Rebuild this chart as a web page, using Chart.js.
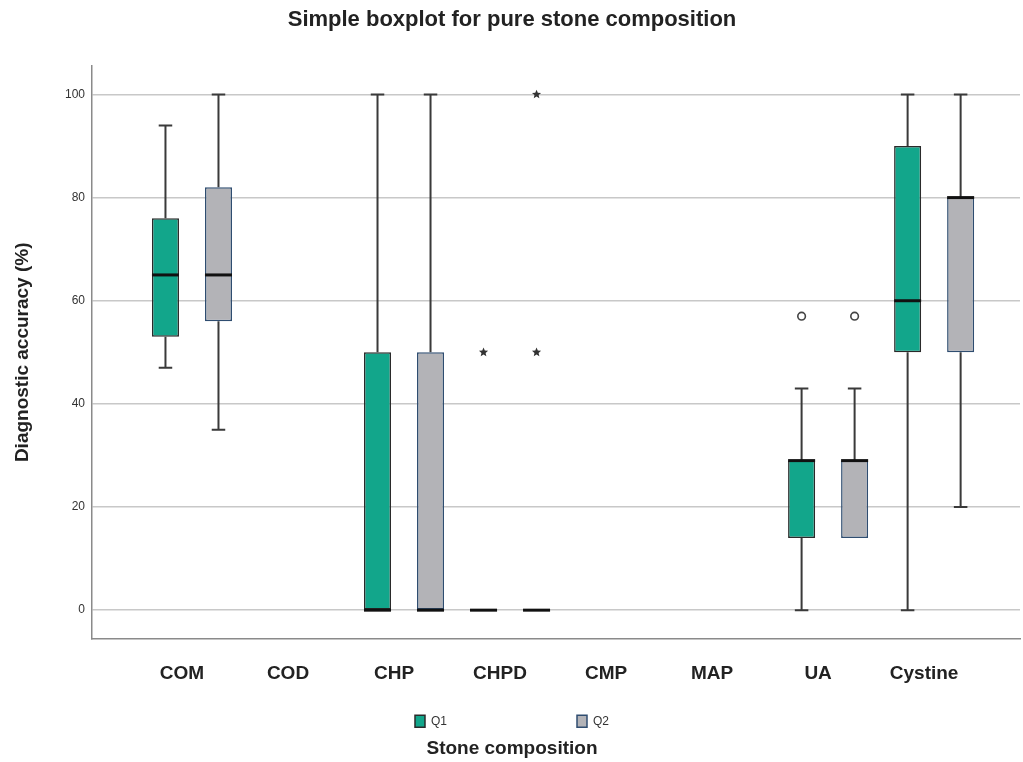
<!DOCTYPE html>
<html>
<head>
<meta charset="utf-8">
<script src="https://cdn.jsdelivr.net/npm/chart.js@4"></script>
<style>
  html, body { margin: 0; padding: 0; background: #fff; }
  #wrap { width: 1023px; height: 762px; }
</style>
</head>
<body>
<div id="wrap"><canvas id="boxChart" width="1023" height="762"></canvas></div>
<script>
// categories on the x axis
const categories = ['COM', 'COD', 'CHP', 'CHPD', 'CMP', 'MAP', 'UA', 'Cystine'];
const groupNames = ['Q1', 'Q2'];

// Q1 five-number summaries (null = no box)
const q1Min    = [47, null, 0,   0, null, null, 0,  0];
const q1Lower  = [53, null, 0,   0, null, null, 14, 50];
const q1Median = [65, null, 0,   0, null, null, 29, 60];
const q1Upper  = [76, null, 50,  0, null, null, 29, 90];
const q1Max    = [94, null, 100, 0, null, null, 43, 100];
const q1Circles = [[], [], [], [],   [], [], [57], []];
const q1Stars   = [[], [], [], [50], [], [], [],   []];

// Q2 five-number summaries
const q2Min    = [35,  null, 0,   0, null, null, 14, 20];
const q2Lower  = [56,  null, 0,   0, null, null, 14, 50];
const q2Median = [65,  null, 0,   0, null, null, 29, 80];
const q2Upper  = [82,  null, 50,  0, null, null, 29, 80];
const q2Max    = [100, null, 100, 0, null, null, 43, 100];
const q2Circles = [[], [], [], [],        [], [], [57], []];
const q2Stars   = [[], [], [], [50, 100], [], [], [],   []];

// y ticks
const yTicks = [0, 20, 40, 60, 80, 100];

const stats = [
  { min: q1Min, lo: q1Lower, med: q1Median, hi: q1Upper, max: q1Max, circles: q1Circles, stars: q1Stars },
  { min: q2Min, lo: q2Lower, med: q2Median, hi: q2Upper, max: q2Max, circles: q2Circles, stars: q2Stars }
];

function boxData(lo, hi) {
  const out = [];
  categories.forEach(function(c, i) {
    if (lo[i] !== null) out.push({ x: i, y: [lo[i], hi[i]] });
  });
  return out;
}

function star(ctx, cx, cy, r) {
  ctx.beginPath();
  for (let k = 0; k < 10; k++) {
    const rr = k % 2 === 0 ? r : r * 0.45;
    const a = -Math.PI / 2 + k * Math.PI / 5;
    const px = cx + rr * Math.cos(a), py = cy + rr * Math.sin(a);
    if (k === 0) ctx.moveTo(px, py); else ctx.lineTo(px, py);
  }
  ctx.closePath();
  ctx.fill();
}

// whiskers behind the boxes, medians + outliers on top
const boxParts = {
  id: 'boxParts',
  beforeDatasetsDraw(chart) {
    const ctx = chart.ctx, y = chart.scales.y;
    ctx.save();
    ctx.strokeStyle = '#3a3a3a';
    ctx.lineWidth = 2;
    chart.data.datasets.forEach(function(ds, g) {
      const meta = chart.getDatasetMeta(g);
      const s = stats[g];
      meta.data.forEach(function(el, k) {
        const i = ds.data[k].x;
        const cap = el.width * 0.25;
        const yMax = y.getPixelForValue(s.max[i]), yHi = y.getPixelForValue(s.hi[i]);
        const yMin = y.getPixelForValue(s.min[i]), yLo = y.getPixelForValue(s.lo[i]);
        ctx.beginPath();
        if (s.max[i] > s.hi[i]) {
          ctx.moveTo(el.x, yHi); ctx.lineTo(el.x, yMax);
          ctx.moveTo(el.x - cap, yMax); ctx.lineTo(el.x + cap, yMax);
        }
        if (s.min[i] < s.lo[i]) {
          ctx.moveTo(el.x, yLo); ctx.lineTo(el.x, yMin);
          ctx.moveTo(el.x - cap, yMin); ctx.lineTo(el.x + cap, yMin);
        }
        ctx.stroke();
      });
    });
    ctx.restore();
  },
  afterDatasetsDraw(chart) {
    const ctx = chart.ctx, y = chart.scales.y;
    ctx.save();
    chart.data.datasets.forEach(function(ds, g) {
      const meta = chart.getDatasetMeta(g);
      const s = stats[g];
      meta.data.forEach(function(el, k) {
        const i = ds.data[k].x;
        const ym = y.getPixelForValue(s.med[i]);
        ctx.strokeStyle = '#111';
        ctx.lineWidth = 3;
        ctx.beginPath();
        ctx.moveTo(el.x - el.width / 2, ym);
        ctx.lineTo(el.x + el.width / 2, ym);
        ctx.stroke();
        s.circles[i].forEach(function(v) {
          ctx.beginPath();
          ctx.arc(el.x, y.getPixelForValue(v), 3.8, 0, Math.PI * 2);
          ctx.fillStyle = '#fff';
          ctx.fill();
          ctx.strokeStyle = '#444';
          ctx.lineWidth = 1.6;
          ctx.stroke();
        });
        ctx.fillStyle = '#333';
        s.stars[i].forEach(function(v) {
          star(ctx, el.x, y.getPixelForValue(v), 4.8);
        });
      });
    });
    ctx.restore();
  }
};

const ctx1 = document.getElementById('boxChart');
const boxChart = new Chart(ctx1, {
  type: 'bar',
  data: {
    datasets: [{
      label: groupNames[0],
      data: boxData(q1Lower, q1Upper),
      backgroundColor: '#12a68b',
      borderColor: '#2a2a2a',
      borderWidth: 1.5,
      borderSkipped: false,
      categoryPercentage: 1.0,
      barPercentage: 0.51
    }, {
      label: groupNames[1],
      data: boxData(q2Lower, q2Upper),
      backgroundColor: '#b3b3b7',
      borderColor: '#2f4d70',
      borderWidth: 1.5,
      borderSkipped: false,
      categoryPercentage: 1.0,
      barPercentage: 0.51
    }]
  },
  options: {
    responsive: false,
    animation: false,
    layout: { padding: { left: 4, right: 3, top: 0, bottom: 0 } },
    plugins: {
      title: {
        display: true,
        text: 'Simple boxplot for pure stone composition',
        color: '#222',
        font: { family: 'Liberation Sans, Arial, sans-serif', size: 22, weight: 'bold' },
        padding: { top: 7, bottom: 32 }
      },
      subtitle: {
        display: true,
        position: 'bottom',
        text: 'Stone composition',
        color: '#222',
        font: { family: 'Liberation Sans, Arial, sans-serif', size: 19, weight: 'bold' },
        padding: { top: 0, bottom: 2 }
      },
      legend: {
        display: true,
        position: 'bottom',
        labels: {
          boxWidth: 10,
          boxHeight: 12,
          padding: 10,
          color: '#333',
          font: { family: 'Liberation Sans, Arial, sans-serif', size: 12 },
          generateLabels(chart) {
            const items = Chart.defaults.plugins.legend.labels.generateLabels(chart);
            // wide gap between the two keys
            items[0].text = items[0].text + '\u2003'.repeat(10);
            return items;
          }
        }
      },
      tooltip: { enabled: false }
    },
    scales: {
      x: {
        type: 'linear',
        offset: false,
        min: -0.943,
        max: 7.81,
        grid: { display: false, drawTicks: false },
        border: { display: true, color: '#8a8a8a', width: 1.5 },
        ticks: {
          stepSize: 1,
          includeBounds: false,
          autoSkip: false,
          maxRotation: 0,
          padding: 23,
          labelOffset: -10,
          color: '#222',
          font: { family: 'Liberation Sans, Arial, sans-serif', size: 19, weight: 'bold' },
          callback: function(v) { return categories[v] !== undefined ? categories[v] : ''; }
        },
        afterFit: function(scale) { scale.height = 66; }
      },
      y: {
        min: -5.63,
        max: 105.63,
        grid: { color: '#c8c8c8', lineWidth: 1.5, drawTicks: false },
        border: { display: true, color: '#8a8a8a', width: 1.5 },
        afterBuildTicks: function(scale) {
          scale.ticks = yTicks.map(function(v) { return { value: v }; });
        },
        ticks: {
          padding: 7,
          color: '#333',
          font: { family: 'Liberation Sans, Arial, sans-serif', size: 12 }
        },
        title: {
          display: true,
          text: 'Diagnostic accuracy (%)',
          color: '#222',
          font: { family: 'Liberation Sans, Arial, sans-serif', size: 19, weight: 'bold' },
          padding: { top: 7, bottom: 4 }
        },
        afterFit: function(scale) { scale.width = 88; }
      }
    }
  },
  plugins: [boxParts]
});
</script>
</body>
</html>
